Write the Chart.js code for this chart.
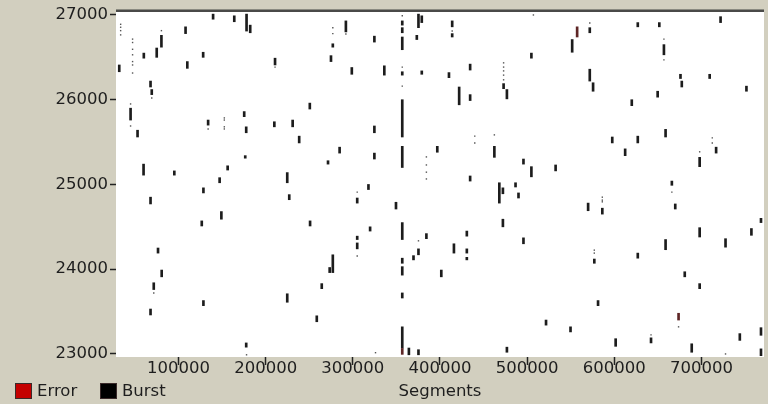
<!DOCTYPE html>
<html lang="en">
<head>
<meta charset="UTF-8">
<title>Segments</title>
<script src="https://cdn.jsdelivr.net/npm/chart.js"></script>
<style>
  html, body { margin: 0; padding: 0; background: #d2cfbf; }
  #segChart { display: block; }
</style>
</head>
<body>
<canvas id="segChart" width="768" height="404"></canvas>
<script>
// axis ticks
const xTicks = [100000, 200000, 300000, 400000, 500000, 600000, 700000];
const yTicks = [23000, 24000, 25000, 26000, 27000];

// bursts: segment number, lowest and highest value of each run
const burstX = [
  139600, 163900, 178000, 182200, 108000, 80300, 74900, 60100, 128200, 110000,
  31900, 67800, 69200, 44900, 52900, 133900, 175300, 177600, 176500, 59800,
  95100, 156300, 147100, 128500, 67800, 149100, 126600, 76400, 80600, 71500,
  128500, 67800, 177600, 277000, 292000, 324700, 210700, 274900, 298800, 250600,
  209900, 230900, 238400, 324700, 284800, 271500, 324700, 224700, 227000, 317900,
  305000, 250900, 319800, 305000, 305000, 277000, 273400, 264300, 224700, 258600,
  356700, 356700, 356700, 356700, 356700, 356700, 356700, 356700, 356700, 356700, 356700,
  375300, 379100, 373400, 414000, 414000, 336100, 379100, 410300, 434600, 473000,
  422000, 434600, 396900, 462400, 434600, 468100, 472200, 349500, 472200, 384400,
  375300, 369600, 416000, 430800, 430800, 430800, 401500, 364300, 375300,
  571900, 551700, 504900, 476800, 571900, 575700, 620100, 597700, 612500, 495800,
  504900, 532700, 486700, 490100, 570000, 586300, 495800, 577100, 581400, 521700,
  549800, 601600, 476800,
  627000, 651700, 722000, 657000, 676000, 677500, 709500, 751700, 649800, 627000,
  658900, 716900, 698000, 666100, 670000, 768400, 698000, 757400, 658900, 727700,
  627000, 680900, 698000, 642200, 744100, 768400, 688900, 768400
];
const burstLo = [
  26950, 26920, 26810, 26790, 26780, 26620, 26500, 26490, 26500, 26370,
  26330, 26150, 26060, 25760, 25560, 25700, 25800, 25610, 25310, 25110,
  25110, 25170, 25020, 24900, 24770, 24590, 24510, 24190, 23910, 23760,
  23570, 23460, 23080, 26620, 26800, 26680, 26410, 26450, 26300, 25890,
  25680, 25680, 25490, 25610, 25370, 25240, 25300, 25020, 24820, 24940,
  24780, 24510, 24450, 24350, 24240, 23960, 23960, 23770, 23610, 23380,
  26880, 26790, 26590, 26290, 25560, 25200, 24350, 24070, 23930, 23660, 23070,
  26850, 26910, 26710, 26860, 26740, 26290, 26300, 26260, 26350, 26130,
  25940, 25990, 25380, 25320, 25040, 24780, 24890, 24710, 24500, 24360,
  24170, 24110, 24190, 24390, 24190, 24110, 23910, 22990, 22990,
  26790, 26560, 26490, 26010, 26220, 26100, 25930, 25490, 25340, 25240,
  25090, 25160, 24970, 24840, 24690, 24650, 24300, 24070, 23570, 23340,
  23260, 23090, 23020,
  26860, 26860, 26910, 26530, 26250, 26150, 26250, 26100, 26030, 25490,
  25560, 25370, 25210, 24990, 24710, 24550, 24380, 24400, 24230, 24260,
  24130, 23910, 23770, 23130, 23160, 23220, 23020, 22980
];
const burstHi = [
  27010, 26990, 27010, 26880, 26860, 26760, 26610, 26550, 26560, 26450,
  26410, 26220, 26120, 25900, 25640, 25760, 25860, 25680, 25340, 25240,
  25160, 25220, 25080, 24960, 24850, 24680, 24570, 24250, 23990, 23840,
  23630, 23530, 23130, 26660, 26930, 26750, 26490, 26520, 26380, 25960,
  25740, 25760, 25570, 25690, 25440, 25280, 25370, 25140, 24880, 25000,
  24840, 24570, 24500, 24390, 24310, 24170, 24020, 23830, 23710, 23450,
  26930, 26850, 26740, 26330, 26000, 25450, 24550, 24130, 24030, 23720, 23320,
  27010, 26990, 26760, 26930, 26780, 26400, 26340, 26320, 26420, 26190,
  26150, 26060, 25450, 25450, 25100, 25020, 24960, 24790, 24590, 24420,
  24240, 24160, 24300, 24450, 24240, 24140, 23990, 23070, 23050,
  26850, 26710, 26550, 26120, 26360, 26200, 26000, 25560, 25420, 25300,
  25210, 25230, 25020, 24900, 24780, 24720, 24370, 24120, 23630, 23400,
  23320, 23180, 23080,
  26910, 26910, 26980, 26650, 26300, 26220, 26300, 26160, 26100, 25570,
  25650, 25440, 25320, 25040, 24770, 24600, 24490, 24480, 24350, 24360,
  24190, 23970, 23830, 23190, 23240, 23310, 23120, 23060
];

// single readings shown as dots
const dotX = [
  33500, 33500, 33500, 33500, 47200, 47200, 47200, 47200, 47200, 47200, 47200,
  80300, 44900, 44900, 69200, 133900, 152500, 152500, 152500, 152500, 71500, 178000,
  277000, 277000, 292000, 210700, 305000, 305000, 326000, 356700, 356700, 356700,
  414000, 473000, 473000, 473000, 473000, 473000, 384400, 384400, 384400, 384400,
  439900, 439900, 462400, 375300, 507200, 571900, 586300, 586300, 586300, 577100, 577100,
  657000, 657000, 712500, 712500, 698000, 666100, 673800, 642200, 727700
];
const dotY = [
  26890, 26855, 26815, 26765, 26715, 26675, 26595, 26530, 26450, 26410, 26315,
  26815, 25950, 25690, 26020, 25655, 25785, 25760, 25680, 25655, 23720, 22990,
  26850, 26780, 26775, 26385, 24910, 24155, 23015, 26990, 26385, 26160,
  26810, 26435, 26385, 26340, 26290, 26235, 25325, 25230, 25145, 25065,
  25570, 25490, 25585, 24335, 27000, 26905, 24850, 24815, 24795, 24225, 24190,
  26715, 26470, 25550, 25490, 25385, 24910, 23320, 23225, 23000
];

// errors
const errorX = [356700, 557400, 673800];
const errorLo = [22995, 26740, 23400];
const errorHi = [23065, 26860, 23480];

const FONT = '"DejaVu Sans", sans-serif';
const FONT_SIZE = 16.5;
const TEXT = '#1e1e1e';

const toBars = (xs, lo, hi) => xs.map((x, i) => ({ x: x, y: [lo[i], hi[i]] }));

const plotBack = {
  id: 'plotBack',
  beforeDatasetsDraw(chart) {
    const { ctx, chartArea: a } = chart;
    ctx.save();
    ctx.fillStyle = '#ffffff';
    ctx.fillRect(a.left, a.top, a.right - a.left, a.bottom - a.top);
    ctx.fillStyle = '#8a8a80';
    ctx.fillRect(a.left, a.top - 3, a.right - a.left, 1);
    ctx.fillStyle = '#4a4a48';
    ctx.fillRect(a.left, a.top - 2, a.right - a.left, 2);
    ctx.restore();
  }
};

const boxLegend = {
  id: 'boxLegend',
  afterDraw(chart) {
    const ctx = chart.ctx;
    const items = chart.data.datasets.filter(d => d.legendColor);
    const starts = [15, 100];
    ctx.save();
    ctx.font = FONT_SIZE + 'px ' + FONT;
    ctx.textBaseline = 'middle';
    items.forEach((d, i) => {
      const x = starts[i];
      ctx.fillStyle = d.legendColor;
      ctx.fillRect(x, 383, 17, 16);
      ctx.strokeStyle = '#3a2a2a';
      ctx.lineWidth = 1;
      ctx.strokeRect(x + 0.5, 383.5, 16, 15);
      ctx.fillStyle = TEXT;
      ctx.fillText(d.label, x + 22, 392);
    });
    ctx.restore();
  }
};

Chart.defaults.font.family = FONT;
Chart.defaults.font.size = FONT_SIZE;
Chart.defaults.color = TEXT;

new Chart(document.getElementById('segChart'), {
  type: 'bar',
  data: {
    datasets: [
      {
        type: 'scatter',
        label: 'dots',
        data: dotX.map((x, i) => ({ x: x, y: dotY[i] })),
        pointStyle: 'rect',
        pointRadius: 1,
        borderWidth: 0,
        backgroundColor: '#555555'
      },
      {
        label: 'Error',
        legendColor: '#c40000',
        data: toBars(errorX, errorLo, errorHi),
        backgroundColor: '#5e2626'
      },
      {
        label: 'Burst',
        legendColor: '#000000',
        data: toBars(burstX, burstLo, burstHi),
        backgroundColor: '#1c1c1c'
      }
    ]
  },
  options: {
    responsive: false,
    animation: false,
    layout: { padding: { top: 12, left: 0, right: 0, bottom: 0 } },
    datasets: {
      bar: { barThickness: 2, grouped: false, borderWidth: 0, borderSkipped: false }
    },
    plugins: { legend: { display: false }, tooltip: { enabled: false } },
    scales: {
      x: {
        type: 'linear',
        min: 28170,
        max: 771850,
        offset: false,
        afterBuildTicks: s => { s.ticks = xTicks.map(v => ({ value: v })); },
        afterFit: s => { s.height = 47; },
        grid: { drawOnChartArea: false, offset: false, tickLength: 8, tickColor: '#222', tickWidth: 1.5 },
        border: { display: false },
        ticks: { padding: -6, maxRotation: 0, autoSkip: false, callback: v => String(v) },
        title: { display: true, text: 'Segments', padding: { top: 0, bottom: 2 } }
      },
      y: {
        min: 22964,
        max: 27035,
        afterBuildTicks: s => { s.ticks = yTicks.map(v => ({ value: v })); },
        afterFit: s => { s.width = 116; },
        grid: { drawOnChartArea: false, tickLength: 6, tickColor: '#222', tickWidth: 1.5 },
        border: { display: false },
        ticks: { padding: 2, callback: v => String(v) }
      }
    }
  },
  plugins: [plotBack, boxLegend]
});
</script>
</body>
</html>
